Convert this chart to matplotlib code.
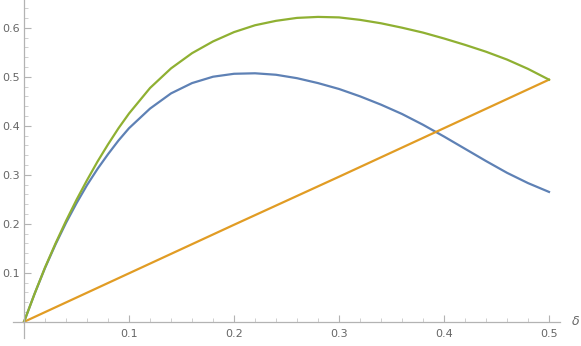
import matplotlib.pyplot as plt

# values
delta = [0.00, 0.01, 0.02, 0.03, 0.04, 0.05, 0.06, 0.07, 0.08, 0.09, 0.10,
         0.12, 0.14, 0.16, 0.18, 0.20, 0.22, 0.24, 0.26, 0.28, 0.30,
         0.32, 0.34, 0.36, 0.38, 0.40, 0.42, 0.44, 0.46, 0.48, 0.50]
blue = [0.000, 0.057, 0.110, 0.158, 0.202, 0.242, 0.279, 0.312, 0.342, 0.370, 0.395,
        0.435, 0.466, 0.487, 0.500, 0.506, 0.507, 0.504, 0.497, 0.487, 0.475,
        0.460, 0.443, 0.424, 0.402, 0.378, 0.353, 0.328, 0.304, 0.283, 0.265]
green = [0.000, 0.057, 0.111, 0.160, 0.206, 0.249, 0.289, 0.327, 0.362, 0.395, 0.425,
         0.477, 0.517, 0.548, 0.572, 0.591, 0.605, 0.614, 0.620, 0.622, 0.621,
         0.616, 0.609, 0.600, 0.590, 0.578, 0.565, 0.551, 0.535, 0.516, 0.494]
delta_lin = [0.0, 0.1, 0.2, 0.3, 0.4, 0.5]
orange = [0.0, 0.099, 0.198, 0.296, 0.395, 0.494]

x_ticks = [0.1, 0.2, 0.3, 0.4, 0.5]
y_ticks = [0.1, 0.2, 0.3, 0.4, 0.5, 0.6]

fig = plt.figure(figsize=(5.81, 3.46), dpi=100)
ax = fig.add_axes([0.0224, 0.0231, 0.9415, 0.9769])

ax.plot(delta, blue, color='#5E81B5', lw=1.6, solid_joinstyle='round')
ax.plot(delta_lin, orange, color='#E19C24', lw=1.6)
ax.plot(delta, green, color='#8FB032', lw=1.6, solid_joinstyle='round')

ax.set_xlim(-0.0105, 0.5105)
ax.set_ylim(-0.033, 0.6565)

for s in ['top', 'right']:
    ax.spines[s].set_visible(False)
for s in ['left', 'bottom']:
    ax.spines[s].set_position(('data', 0))
    ax.spines[s].set_color('#b3b3b3')
    ax.spines[s].set_linewidth(0.9)

ax.set_xticks(x_ticks)
ax.set_xticklabels([str(t) for t in x_ticks])
ax.set_yticks(y_ticks)
ax.set_yticklabels([str(t) for t in y_ticks])
ax.set_xticks([round(0.02 * i, 2) for i in range(1, 26) if i % 5 != 0], minor=True)
ax.set_yticks([round(0.02 * i, 2) for i in range(1, 33) if i % 5 != 0], minor=True)

ax.tick_params(which='major', direction='in', length=5, width=0.8, color='#b3b3b3',
               labelcolor='#666666', labelsize=8)
ax.tick_params(which='minor', direction='in', length=3, width=0.6, color='#c8c8c8')
ax.tick_params(axis='x', which='major', pad=5)
ax.tick_params(axis='y', which='major', pad=3)

ax.annotate(r'$\delta$', xy=(1.0, 0), xycoords=('axes fraction', 'data'),
            xytext=(8, 0), textcoords='offset points', ha='left', va='center',
            color='#666666', fontsize=9)

fig.savefig('out.png', dpi=100)
